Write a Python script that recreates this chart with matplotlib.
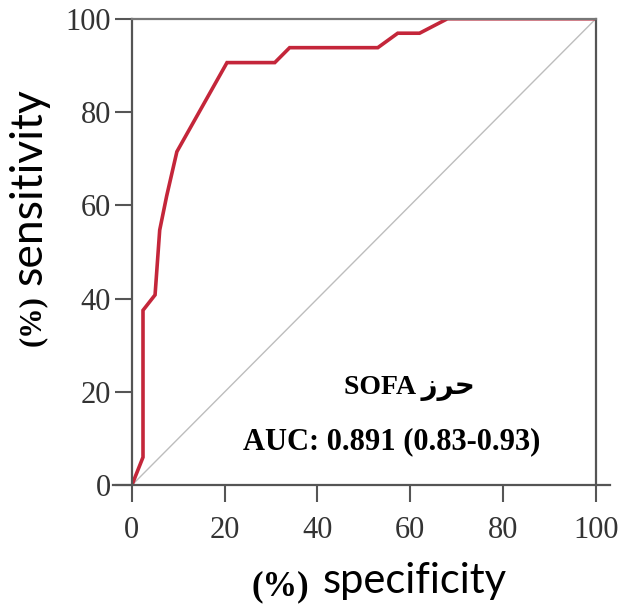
import numpy as np
import matplotlib.pyplot as plt

# ROC curve
specificity = [0, 2.4, 2.4, 5, 6, 7.5, 9.7, 20.5, 30.8, 34, 53, 57.3, 62, 68, 100]
sensitivity = [0, 6, 37.5, 40.8, 54.7, 62, 71.5, 90.6, 90.6, 93.8, 93.8, 96.9, 96.9, 100, 100]
ticks = [0, 20, 40, 60, 80, 100]
label_score = "SOFA \ufeaf\ufeae\ufea3"  # حرز in display order
label_auc = "AUC: 0.891 (0.83-0.93)"

fig = plt.figure(figsize=(6.22, 6.05), dpi=100)
ax = fig.add_axes([0.212, 0.198, 0.746, 0.771])

ax.plot([0, 100], [0, 100], color='#bdbdbd', lw=1)
ax.plot(specificity, sensitivity, color='#c4263a', lw=2.6, solid_joinstyle='miter')

ax.set_xlim(0, 100)
ax.set_ylim(0, 100)
ax.set_xticks(ticks)
ax.set_yticks(ticks)

for s in ax.spines.values():
    s.set_color('#555555')
    s.set_linewidth(1.6)
ax.spines['top'].set_color('#777777')
ax.spines['bottom'].set_bounds(-4, 103)

ax.tick_params(direction='out', length=12, width=1.5, color='#555555',
               labelsize=22, labelcolor='#333333')
ax.tick_params(axis='x', pad=10)
ax.tick_params(axis='y', pad=3)
for lab in ax.get_xticklabels() + ax.get_yticklabels():
    lab.set_family('Liberation Serif')

ax.text(59.9, 20.8, label_score, ha='center', va='center', fontsize=20,
        fontweight='bold', family=['Liberation Serif', 'DejaVu Sans'])
ax.text(56, 9.4, label_auc, ha='center', va='center', fontsize=22,
        fontweight='bold', family='Liberation Serif')

fig.text(0.047, 0.692, "sensitivity", rotation=90, ha='center', va='center',
         fontsize=32, family='Lato')
fig.text(0.052, 0.470, "(%)", rotation=90, ha='center', va='center',
         fontsize=22, fontweight='bold', family='Liberation Serif')
fig.text(0.666, 0.040, "specificity", ha='center', va='center',
         fontsize=30, family='Lato')
fig.text(0.45, 0.030, "(%)", ha='center', va='center',
         fontsize=25, fontweight='bold', family='Liberation Serif')

fig.savefig('out.png', dpi=100)
